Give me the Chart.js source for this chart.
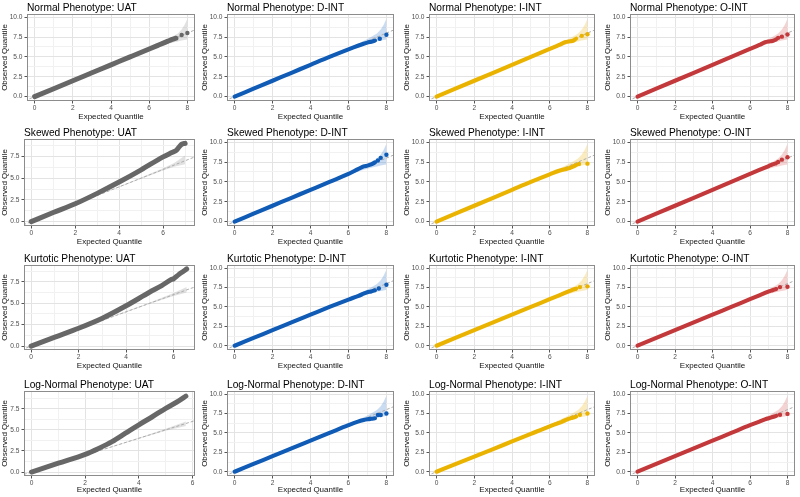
<!DOCTYPE html>
<html><head><meta charset="utf-8">
<script src="https://cdn.jsdelivr.net/npm/chart.js@4.4.0/dist/chart.umd.min.js"></script>
<style>
html,body{margin:0;padding:0;background:#fff;width:800px;height:497px;overflow:hidden;position:relative;}
canvas{position:absolute;}
</style></head><body>
<script>
// ---------- titles ----------
const rowNames = ["Normal", "Skewed", "Kurtotic", "Log-Normal"];
const methods = ["UAT", "D-INT", "I-INT", "O-INT"];

// ---------- tick labels ----------
const xTicks8 = [0, 2, 4, 6, 8];
const xTicks6 = [0, 2, 4, 6];
const yTicks10 = [0, 2.5, 5, 7.5, 10];
const yTicks75 = [0, 2.5, 5, 7.5];

// ---------- reference line y = x ----------
const refX = [-1, 11];
const refY = [-1, 11];

// ---------- confidence band (expected max 8) ----------
const band8X  = [3, 4, 5, 5.5, 6, 6.5, 7, 7.3, 7.5, 7.7, 7.85, 8.0];
const band8Lo = [2.98, 3.97, 4.95, 5.43, 5.88, 6.3, 6.65, 6.85, 6.95, 7.05, 7.12, 7.2];
const band8Hi = [3.02, 4.03, 5.05, 5.55, 6.1, 6.65, 7.25, 7.65, 7.95, 8.45, 9.0, 9.8];

const bandSkX  = [3, 4, 5, 6, 6.5, 7.0];
const bandSkLo = [2.98, 3.96, 4.93, 5.88, 6.3, 6.6];
const bandSkHi = [3.02, 4.05, 5.08, 6.15, 6.75, 7.6];
const bandKuX  = [3, 4, 5, 6, 6.55];
const bandKuLo = [2.98, 3.96, 4.93, 5.85, 6.25];
const bandKuHi = [3.02, 4.05, 5.08, 6.2, 6.9];
const bandLnX  = [2, 3, 4, 5, 5.75];
const bandLnLo = [1.99, 2.97, 3.95, 4.9, 5.45];
const bandLnHi = [2.01, 3.03, 4.06, 5.12, 6.0];

// ---------- expected quantiles (dense part) ----------
const expINT = [0, 1, 2, 3, 4, 5, 6, 6.5, 6.8, 7.0, 7.2, 7.4];

// ---------- observed quantiles ----------
const obsNormalUAT  = [0, 1, 2, 3, 4, 5, 6, 6.5, 6.8, 7.0, 7.2, 7.35];
const obsNormalDINT = [0, 1, 2, 3, 4, 5, 5.95, 6.4, 6.65, 6.8, 6.92, 7.05];
const obsNormalIINT = [0, 1, 2, 3, 4, 5, 6, 6.5, 6.85, 6.95, 7.0, 7.3];
const obsNormalOINT = [0, 1, 2, 3, 4, 5, 6, 6.5, 6.85, 6.95, 7.0, 7.2];

const expSkewedUAT  = [0, 1, 2, 3, 4, 5, 6, 6.4, 6.6, 6.75, 6.85, 7.0];
const obsSkewedUAT  = [0, 1.05, 2.05, 3.25, 4.55, 5.95, 7.45, 7.95, 8.2, 8.65, 8.9, 9.0];
const obsSkewedDINT = [0, 1, 2, 3, 4, 5, 6, 6.6, 6.95, 7.05, 7.2, 7.45];
const obsSkewedIINT = [0, 1, 2, 3, 4, 5, 5.95, 6.4, 6.6, 6.7, 6.9, 7.1];
const obsSkewedOINT = [0, 1, 2, 3, 4, 5, 6, 6.5, 6.8, 7.0, 7.2, 7.35];

const expKurtUAT  = [0, 1, 2, 3, 4, 5, 5.5, 5.9, 6.0, 6.2, 6.4, 6.55];
const obsKurtUAT  = [0, 1.05, 2.08, 3.25, 4.7, 6.3, 7.05, 7.75, 7.85, 8.3, 8.7, 9.0];
const obsKurtDINT = [0, 1, 2, 3, 4, 5, 5.95, 6.4, 6.7, 6.9, 7.0, 7.15];
const obsKurtIINT = [0, 1, 2, 3, 4, 5, 6, 6.5, 6.8, 7.0, 7.2, 7.35];
const obsKurtOINT = [0, 1, 2, 3, 4, 5, 6, 6.5, 6.8, 7.0, 7.15, 7.3];

const expLogUAT  = [0, 1, 2, 2.5, 3, 3.5, 4, 4.5, 5, 5.5, 5.75];
const obsLogUAT  = [0, 1.05, 2.1, 2.8, 3.6, 4.6, 5.6, 6.55, 7.55, 8.45, 9.0];
const obsLogDINT = [0, 1, 2, 3, 4, 5, 6, 6.45, 6.65, 6.75, 6.82, 6.88];
const obsLogIINT = [0, 0.98, 1.95, 2.92, 3.9, 4.88, 5.85, 6.3, 6.6, 6.8, 6.95, 7.1];
const obsLogOINT = [0, 1, 2, 3, 4, 5, 6, 6.45, 6.75, 6.9, 7.05, 7.2];

// ---------- isolated tail points ----------
const tailXNormalUAT  = [7.7, 8.0];        const tailYNormalUAT  = [7.75, 8.0];
const tailXNormalDINT = [7.65, 8.0];       const tailYNormalDINT = [7.28, 7.78];
const tailXNormalIINT = [7.7, 8.0];        const tailYNormalIINT = [7.65, 7.85];
const tailXNormalOINT = [7.5, 7.7, 8.0];   const tailYNormalOINT = [7.4, 7.55, 7.82];
const tailXSkewedUAT  = [];                const tailYSkewedUAT  = [];
const tailXSkewedDINT = [7.55, 7.7, 8.0];  const tailYSkewedDINT = [7.7, 8.03, 8.41];
const tailXSkewedIINT = [7.55, 8.0];       const tailYSkewedIINT = [7.25, 7.3];
const tailXSkewedOINT = [7.5, 7.7, 8.0];   const tailYSkewedOINT = [7.5, 7.8, 8.1];
const tailXKurtUAT    = [];                const tailYKurtUAT    = [];
const tailXKurtDINT   = [7.6, 8.0];        const tailYKurtDINT   = [7.38, 7.85];
const tailXKurtIINT   = [7.6, 8.0];        const tailYKurtIINT   = [7.55, 7.65];
const tailXKurtOINT   = [7.6, 8.0];        const tailYKurtOINT   = [7.55, 7.6];
const tailXLogUAT     = [];                const tailYLogUAT     = [];
const tailXLogDINT    = [7.55, 7.7, 8.0];  const tailYLogDINT    = [7.3, 7.3, 7.5];
const tailXLogIINT    = [7.6, 8.0];        const tailYLogIINT    = [7.35, 7.5];
const tailXLogOINT    = [7.6, 8.0];        const tailYLogOINT    = [7.35, 7.45];

// ---------- styles / layout ----------
const FONT = "'Liberation Sans', Arial, Helvetica, sans-serif";
Chart.defaults.font.family = FONT;
const colors = {
  "UAT":   {line: "#676767", band: "rgba(170,170,170,0.35)"},
  "D-INT": {line: "#0f5bb5", band: "rgba(90,145,215,0.32)"},
  "I-INT": {line: "#eab300", band: "rgba(245,205,90,0.38)"},
  "O-INT": {line: "#c3383a", band: "rgba(225,130,130,0.35)"}
};
const rowTop = [0, 125, 251, 377];
const rowH   = [124, 124, 122, 120];
const xAxH   = [23, 23, 23, 21];
const colLeft = [0, 200, 402, 603];
const colW    = [198, 197, 196, 195];

function zip(xs, ys) { return xs.map((x, i) => ({x: x, y: ys[i]})); }
function withMinor(majors, min, max) {
  const step = (majors[1] - majors[0]) / 2;
  const out = [];
  for (let v = Math.ceil(min / step) * step; v <= max + 1e-9; v += step) out.push(+v.toFixed(4));
  return out;
}

const panels = [
  {r:0,c:0, ex:expINT, ob:obsNormalUAT, tx:tailXNormalUAT, ty:tailYNormalUAT, bx:band8X, blo:band8Lo, bhi:band8Hi, xr:[-0.4,8.4], yr:[-0.55,10.4], xt:xTicks8, yt:yTicks10},
  {r:0,c:1, ex:expINT, ob:obsNormalDINT, tx:tailXNormalDINT, ty:tailYNormalDINT, bx:band8X, blo:band8Lo, bhi:band8Hi, xr:[-0.4,8.4], yr:[-0.55,10.4], xt:xTicks8, yt:yTicks10},
  {r:0,c:2, ex:expINT, ob:obsNormalIINT, tx:tailXNormalIINT, ty:tailYNormalIINT, bx:band8X, blo:band8Lo, bhi:band8Hi, xr:[-0.4,8.4], yr:[-0.55,10.4], xt:xTicks8, yt:yTicks10},
  {r:0,c:3, ex:expINT, ob:obsNormalOINT, tx:tailXNormalOINT, ty:tailYNormalOINT, bx:band8X, blo:band8Lo, bhi:band8Hi, xr:[-0.4,8.4], yr:[-0.55,10.4], xt:xTicks8, yt:yTicks10},
  {r:1,c:0, ex:expSkewedUAT, ob:obsSkewedUAT, tx:tailXSkewedUAT, ty:tailYSkewedUAT, bx:bandSkX, blo:bandSkLo, bhi:bandSkHi, xr:[-0.33,7.45], yr:[-0.5,9.5], xt:xTicks6, yt:yTicks75},
  {r:1,c:1, ex:expINT, ob:obsSkewedDINT, tx:tailXSkewedDINT, ty:tailYSkewedDINT, bx:band8X, blo:band8Lo, bhi:band8Hi, xr:[-0.4,8.4], yr:[-0.55,10.4], xt:xTicks8, yt:yTicks10},
  {r:1,c:2, ex:expINT, ob:obsSkewedIINT, tx:tailXSkewedIINT, ty:tailYSkewedIINT, bx:band8X, blo:band8Lo, bhi:band8Hi, xr:[-0.4,8.4], yr:[-0.55,10.4], xt:xTicks8, yt:yTicks10},
  {r:1,c:3, ex:expINT, ob:obsSkewedOINT, tx:tailXSkewedOINT, ty:tailYSkewedOINT, bx:band8X, blo:band8Lo, bhi:band8Hi, xr:[-0.4,8.4], yr:[-0.55,10.4], xt:xTicks8, yt:yTicks10},
  {r:2,c:0, ex:expKurtUAT, ob:obsKurtUAT, tx:tailXKurtUAT, ty:tailYKurtUAT, bx:bandKuX, blo:bandKuLo, bhi:bandKuHi, xr:[-0.3,6.9], yr:[-0.45,9.45], xt:xTicks6, yt:yTicks75},
  {r:2,c:1, ex:expINT, ob:obsKurtDINT, tx:tailXKurtDINT, ty:tailYKurtDINT, bx:band8X, blo:band8Lo, bhi:band8Hi, xr:[-0.4,8.4], yr:[-0.55,10.4], xt:xTicks8, yt:yTicks10},
  {r:2,c:2, ex:expINT, ob:obsKurtIINT, tx:tailXKurtIINT, ty:tailYKurtIINT, bx:band8X, blo:band8Lo, bhi:band8Hi, xr:[-0.4,8.4], yr:[-0.55,10.4], xt:xTicks8, yt:yTicks10},
  {r:2,c:3, ex:expINT, ob:obsKurtOINT, tx:tailXKurtOINT, ty:tailYKurtOINT, bx:band8X, blo:band8Lo, bhi:band8Hi, xr:[-0.4,8.4], yr:[-0.55,10.4], xt:xTicks8, yt:yTicks10},
  {r:3,c:0, ex:expLogUAT, ob:obsLogUAT, tx:tailXLogUAT, ty:tailYLogUAT, bx:bandLnX, blo:bandLnLo, bhi:bandLnHi, xr:[-0.28,6.09], yr:[-0.47,9.6], xt:xTicks6, yt:yTicks75},
  {r:3,c:1, ex:expINT, ob:obsLogDINT, tx:tailXLogDINT, ty:tailYLogDINT, bx:band8X, blo:band8Lo, bhi:band8Hi, xr:[-0.4,8.4], yr:[-0.55,10.4], xt:xTicks8, yt:yTicks10},
  {r:3,c:2, ex:expINT, ob:obsLogIINT, tx:tailXLogIINT, ty:tailYLogIINT, bx:band8X, blo:band8Lo, bhi:band8Hi, xr:[-0.4,8.4], yr:[-0.55,10.4], xt:xTicks8, yt:yTicks10},
  {r:3,c:3, ex:expINT, ob:obsLogOINT, tx:tailXLogOINT, ty:tailYLogOINT, bx:band8X, blo:band8Lo, bhi:band8Hi, xr:[-0.4,8.4], yr:[-0.55,10.4], xt:xTicks8, yt:yTicks10}
];

const framePlugin = {
  id: 'frame',
  afterDatasetsDraw(chart) {
    const a = chart.chartArea, ctx = chart.ctx;
    ctx.save();
    ctx.strokeStyle = '#8c8c8c';
    ctx.lineWidth = 1;
    ctx.strokeRect(Math.round(a.left) + 0.5, Math.round(a.top) + 0.5,
                   Math.round(a.right - a.left) - 1, Math.round(a.bottom - a.top) - 1);
    ctx.restore();
  },
  afterDraw(chart, args, opts) {
    const a = chart.chartArea, ctx = chart.ctx;
    ctx.save();
    ctx.fillStyle = '#000';
    ctx.font = "10.2px " + FONT;
    ctx.textBaseline = 'alphabetic';
    ctx.textAlign = 'left';
    ctx.fillText(opts.text, a.left, a.top - 3);
    ctx.restore();
  }
};

panels.forEach(p => {
  const m = methods[p.c];
  const col = colors[m];
  const cv = document.createElement('canvas');
  cv.width = colW[p.c]; cv.height = rowH[p.r];
  cv.style.left = colLeft[p.c] + 'px';
  cv.style.top = rowTop[p.r] + 'px';
  cv.style.width = colW[p.c] + 'px';
  cv.style.height = rowH[p.r] + 'px';
  document.body.appendChild(cv);
  const yW = (p.yt === yTicks10) ? 27 : 24;
  const xAll = withMinor(p.xt, p.xr[0], p.xr[1]);
  const yAll = withMinor(p.yt, p.yr[0], p.yr[1]);
  const isMajX = v => p.xt.some(t => Math.abs(t - v) < 1e-6);
  const isMajY = v => p.yt.some(t => Math.abs(t - v) < 1e-6);
  new Chart(cv, {
    type: 'scatter',
    plugins: [framePlugin],
    data: {
      datasets: [
        {data: zip(p.tx, p.ty), showLine: false, pointRadius: 2.2, pointHoverRadius: 2.2,
         pointBackgroundColor: col.line, pointBorderWidth: 0, order: 0},
        {data: zip(p.ex, p.ob), showLine: true, borderColor: col.line, borderWidth: (m === 'UAT' ? 5 : 4.1),
         pointRadius: 0, borderCapStyle: 'round', borderJoinStyle: 'round',
         cubicInterpolationMode: 'monotone', order: 1},
        {data: zip(refX, refY), showLine: true, borderColor: '#adadad', borderWidth: 1,
         borderDash: [3, 2], pointRadius: 0, order: 2},
        {data: zip(p.bx, p.bhi), showLine: true, borderWidth: 0, borderColor: 'transparent',
         pointRadius: 0, fill: '+1', backgroundColor: col.band, order: 3},
        {data: zip(p.bx, p.blo), showLine: true, borderWidth: 0, borderColor: 'transparent',
         pointRadius: 0, order: 4}
      ]
    },
    options: {
      animation: false, responsive: false, devicePixelRatio: 1,
      events: [],
      layout: {padding: {top: 14, right: 3, left: 0, bottom: 0}},
      plugins: {legend: {display: false}, tooltip: {enabled: false},
                frame: {text: rowNames[p.r] + " Phenotype: " + m}},
      scales: {
        x: {
          type: 'linear', min: p.xr[0], max: p.xr[1],
          afterBuildTicks: s => { s.ticks = xAll.map(v => ({value: v})); },
          afterFit: s => { s.height = xAxH[p.r]; },
          ticks: {autoSkip: false, maxRotation: 0, minRotation: 0, padding: 1, color: '#4d4d4d',
                  font: {size: 6.6}, callback: v => isMajX(v) ? String(v) : ''},
          grid: {lineWidth: 1, tickLength: 2.5,
                 color: c => isMajX(c.tick.value) ? '#e3e3e3' : '#f1f1f1',
                 tickColor: c => isMajX(c.tick.value) ? '#555' : 'rgba(0,0,0,0)'},
          border: {display: false},
          title: {display: true, text: 'Expected Quantile', color: '#111', font: {size: 8},
                  padding: {top: 0, bottom: 2}}
        },
        y: {
          type: 'linear', min: p.yr[0], max: p.yr[1],
          afterBuildTicks: s => { s.ticks = yAll.map(v => ({value: v})); },
          afterFit: s => { s.width = yW; },
          ticks: {autoSkip: false, padding: 2, color: '#4d4d4d', font: {size: 6.6},
                  callback: v => isMajY(v) ? v.toFixed(1) : ''},
          grid: {lineWidth: 1, tickLength: 2.5,
                 color: c => isMajY(c.tick.value) ? '#e3e3e3' : '#f1f1f1',
                 tickColor: c => isMajY(c.tick.value) ? '#555' : 'rgba(0,0,0,0)'},
          border: {display: false},
          title: {display: true, text: 'Observed Quantile', color: '#111', font: {size: 8},
                  padding: {top: 0, bottom: 0}}
        }
      }
    }
  });
});
</script>
</body></html>
